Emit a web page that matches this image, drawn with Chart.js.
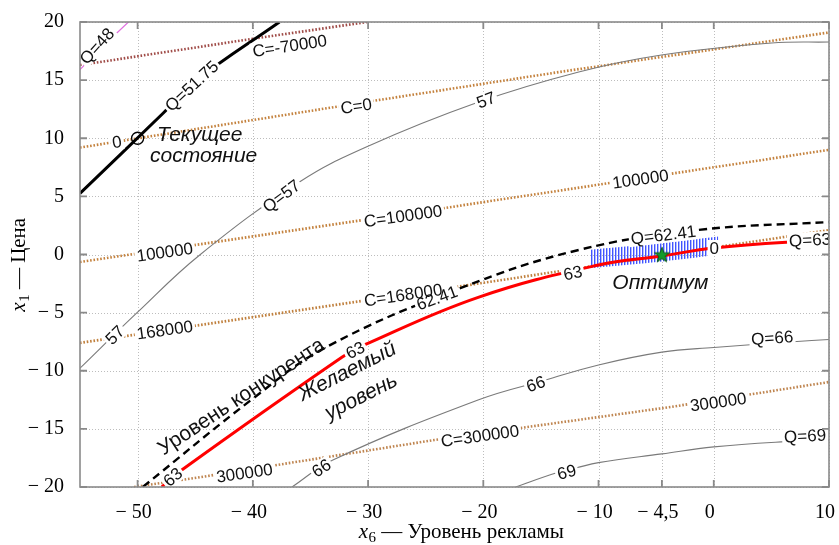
<!DOCTYPE html>
<html><head><meta charset="utf-8">
<script src="https://cdn.jsdelivr.net/npm/chart.js@4.4.1/dist/chart.umd.min.js"></script>
<style>html,body{margin:0;padding:0;background:#fff;overflow:hidden}#wrap{width:839px;height:545px;position:relative}</style>
</head><body><div id="wrap"><canvas id="c"></canvas></div>
<script>
// ---- tick definitions ----
const xTicks = [-50, -40, -30, -20, -10, -4.5, 0, 10];
const xTickLabels = ['\u2212 50', '\u2212 40', '\u2212 30', '\u2212 20', '\u2212 10', '\u2212 4,5', '0', '10'];
const yTicks = [-20, -15, -10, -5, 0, 5, 10, 15, 20];
const yTickLabels = ['\u2212 20', '\u2212 15', '\u2212 10', '\u2212 5', '0', '5', '10', '15', '20'];

// ---- contour lines of cost C (dotted) ----
const cMinus70000 = [[-55, 16.3], [-40.7, 18.45], [-30.1, 20]];
const c0 = [[-55, 9.2], [-29, 13.3], [-13.4, 15.7], [10, 19.1]];
const c100000 = [[-55, -0.65], [-22.7, 4.1], [10, 9.0]];
const c168000 = [[-55, -7.6], [-22.4, -2.8], [10, 2.1]];
const c300000 = [[-50.3, -20], [-45.05, -19.23], [-24.27, -15.96], [-3.76, -13.12], [10, -10.97]];

// ---- contour lines of quality Q ----
const q48 = [[-55, 15.9], [-52.9, 18.0], [-50.8, 20]];
const q5175 = [[-55, 5.26], [-47.79, 12.15], [-45.05, 14.86], [-37.69, 20]];
const q57 = [[-55, -9.78], [-50.07, -5.03], [-44.61, -0.04], [-35.96, 6.24], [-30.16, 9.25],
  [-20.64, 13.03], [-11.72, 15.7], [-4.54, 17.16], [5.02, 18.19], [10.1, 18.28]];
const q6241 = [[-49.55, -20], [-40, -12.4], [-33.62, -7.96], [-21.94, -2.88],
  [-11.72, 0.39], [-1.34, 2.11], [10.1, 2.8]];
const q63 = [[-47.9, -20], [-46.17, -18.54], [-32.24, -8.82], [-30.33, -7.78], [-20.38, -3.66],
  [-10, -0.9], [-4.54, -0.13], [0, 0.56], [6.71, 1.08], [10.1, 1.16]];
const q66 = [[-36.6, -20], [-33.1, -17.7], [-20.4, -12.5], [-14.6, -10.8], [-10, -9.5],
  [-4.5, -8.4], [0, -8.0], [6.9, -7.5], [10.1, -7.3]];
const q69 = [[-17.2, -20], [-13.7, -18.8], [-11.9, -18.35], [-10, -17.9], [-4.5, -17.15], [0, -16.55], [6.2, -16.1], [10.1, -15.95]];

// ---- optimum tolerance band ----
const bandTop = [[-10.7, 0.4], [-4.5, 0.98], [0.4, 1.55]];
const bandBottom = [[-10.7, -1.17], [-4.5, -0.6], [0.4, -0.03]];

// ---- special points ----
const currentState = [[-50, 10]];
const optimum = [[-4.5, 0]];

// ---- inline contour labels: text, data x, data y, angle(deg) ----
const contourLabels = [
  ['Q=48', -53.53, 17.94, -48], ['Q=51.75', -45.31, 14.5, -43], ['C=-70000', -36.8, 17.95, -8.5],
  ['0', -51.8, 9.68, -8], ['C=0', -31.03, 12.77, -8.5], ['57', -19.77, 13.29, -21],
  ['Q=57', -37.52, 5.03, -37], ['57', -51.97, -6.92, -45], ['100000', -47.64, 0.21, -8],
  ['C=100000', -26.96, 3.31, -8], ['100000', -6.36, 6.49, -8], ['168000', -47.64, -6.49, -8],
  ['C=168000', -26.96, -3.48, -8.5], ['62.41', -24.02, -3.74, -20], ['Q=62.41', -4.37, 1.68, -7],
  ['63', -46.95, -19.14, -40], ['63', -31.11, -8.22, -27], ['63', -12.24, -1.59, -12],
  ['Q=63', 8.35, 1.25, -3], ['0', 0.05, 0.56, 0], ['300000', -40.72, -18.8, -8],
  ['C=300000', -20.29, -15.61, -8], ['300000', 0.39, -12.69, -8], ['66', -34.05, -18.37, -33],
  ['66', -15.45, -11.14, -20], ['Q=66', 5.07, -7.18, -4], ['69', -12.76, -18.71, -15], ['Q=69', 7.92, -15.61, -3]
];
// ---- annotations: text, data x, data y, angle, italic ----
const annotations = [
  ['Текущее', -44.61, 9.76, 0, true], ['состояние', -44.27, 7.96, 0, true],
  ['Оптимум', -4.63, -2.97, 0, true],
  ['Уровень конкурента', -40.98, -12.26, -33.5, false],
  ['Желаемый', -31.8, -10.1, -27, true], ['уровень', -30.59, -12.26, -27, true]
];

const P = a => a.map(p => ({x: p[0], y: p[1]}));

function makeStar() {
  const c = document.createElement('canvas'); c.width = 18; c.height = 18;
  const g = c.getContext('2d');
  g.beginPath();
  for (let i = 0; i < 10; i++) {
    const r = i % 2 ? 3.2 : 8;
    const a = -Math.PI / 2 + i * Math.PI / 5;
    g.lineTo(9 + r * Math.cos(a), 9.8 + r * Math.sin(a));
  }
  g.closePath(); g.fillStyle = '#139a2a'; g.fill();
  g.strokeStyle = '#0a5a18'; g.lineWidth = 1; g.stroke();
  return c;
}
const canvas = document.getElementById('c');
canvas.width = 839; canvas.height = 545;
const pc = document.createElement('canvas'); pc.width = 3; pc.height = 4;
const pg = pc.getContext('2d');
pg.fillStyle = 'rgba(55,75,255,0.95)'; pg.fillRect(0, 0, 1, 4);
pg.fillStyle = 'rgba(100,120,255,0.5)'; pg.fillRect(1, 0, 1, 4);
const pattern = canvas.getContext('2d').createPattern(pc, 'repeat');

let ord = 100;
function ln(data, color, width, dash, smooth, extra) {
  return Object.assign({
    data: P(data), showLine: true, pointRadius: 0, borderColor: color, borderWidth: width,
    borderDash: dash || [], fill: false, clip: 0, order: ord--,
    tension: smooth ? 0.4 : 0
  }, extra || {});
}
const dotC = [1.6, 1.8];
const datasets = [
  ln(cMinus70000, '#a04c48', 2.6, dotC, false),
  ln(c0, '#c4823e', 2.6, dotC, false),
  ln(c100000, '#c4823e', 2.6, dotC, false),
  ln(c168000, '#c0803e', 2.6, dotC, false),
  ln(c300000, '#bf8550', 2.6, dotC, false),
  ln(q48, '#e070e0', 1.2, [], true),
  ln(q57, '#7a7a7a', 1.1, [], true),
  ln(q66, '#7a7a7a', 1.1, [], true),
  ln(q69, '#7a7a7a', 1.1, [], true),
];
const bandIdx = datasets.length;
datasets.push(ln(bandTop, 'rgba(0,0,0,0)', 0, [], true, {fill: {target: bandIdx + 1}, backgroundColor: pattern}));
datasets.push(ln(bandBottom, 'rgba(0,0,0,0)', 0, [], true));
datasets.push(ln(q6241, '#000', 2.4, [8, 5], true));
datasets.push(ln(q63, '#ff0000', 3, [], true));
datasets.push(ln(q5175, '#000', 3, [], true));
datasets.push({data: P(currentState), showLine: false, pointRadius: 6, pointStyle: 'circle',
  pointBorderColor: '#000', pointBackgroundColor: 'rgba(0,0,0,0)', pointBorderWidth: 1.3, order: ord--, clip: false});
datasets.push({data: P(optimum), showLine: false, pointRadius: 9, pointStyle: makeStar(), order: ord--, clip: false});

const serif = '"Liberation Serif", "Times New Roman", serif';
const sans = '"Liberation Sans", Arial, sans-serif';

const deco = {
  id: 'deco',
  beforeDatasetsDraw(chart) {
    const {ctx, chartArea: a, scales} = chart;
    ctx.save();
    ctx.strokeStyle = '#bdbdbd'; ctx.lineWidth = 1; ctx.setLineDash([1, 2]);
    xTicks.forEach(v => { const x = Math.round(scales.x.getPixelForValue(v)) + 0.5;
      ctx.beginPath(); ctx.moveTo(x, a.top); ctx.lineTo(x, a.bottom); ctx.stroke(); });
    yTicks.forEach(v => { const y = Math.round(scales.y.getPixelForValue(v)) + 0.5;
      ctx.beginPath(); ctx.moveTo(a.left, y); ctx.lineTo(a.right, y); ctx.stroke(); });
    ctx.restore();
  },
  afterDatasetsDraw(chart) {
    const {ctx, chartArea: a, scales} = chart;
    ctx.save();
    ctx.beginPath(); ctx.rect(a.left, a.top, a.right - a.left, a.bottom - a.top); ctx.clip();
    ctx.font = '17px ' + sans;
    contourLabels.forEach(l => {
      const x = scales.x.getPixelForValue(l[1]), y = scales.y.getPixelForValue(l[2]);
      const w = ctx.measureText(l[0]).width;
      ctx.save(); ctx.translate(x, y); ctx.rotate(l[3] * Math.PI / 180);
      ctx.fillStyle = '#fff'; ctx.fillRect(-w / 2 - 2, -8, w + 4, 16);
      ctx.restore();
    });
    contourLabels.forEach(l => {
      const x = scales.x.getPixelForValue(l[1]), y = scales.y.getPixelForValue(l[2]);
      ctx.save(); ctx.translate(x, y); ctx.rotate(l[3] * Math.PI / 180);
      ctx.fillStyle = '#111'; ctx.textAlign = 'center'; ctx.textBaseline = 'middle';
      ctx.fillText(l[0], 0, 1);
      ctx.restore();
    });
    annotations.forEach(l => {
      const x = scales.x.getPixelForValue(l[1]), y = scales.y.getPixelForValue(l[2]);
      ctx.save(); ctx.translate(x, y); ctx.rotate(l[3] * Math.PI / 180);
      ctx.font = (l[4] ? 'italic ' : '') + '21px ' + sans;
      ctx.fillStyle = '#111'; ctx.textAlign = 'center';
      ctx.textBaseline = l[3] === 0 ? 'alphabetic' : 'middle';
      ctx.fillText(l[0], 0, 0);
      ctx.restore();
    });
    ctx.restore();
    ctx.save();
    ctx.strokeStyle = '#8a8a8a'; ctx.lineWidth = 1.6;
    ctx.strokeRect(a.left, a.top, a.right - a.left, a.bottom - a.top);
    ctx.lineWidth = 1.8; const tl = 7;
    xTicks.forEach(v => { const x = scales.x.getPixelForValue(v);
      ctx.beginPath(); ctx.moveTo(x, a.bottom); ctx.lineTo(x, a.bottom - tl);
      ctx.moveTo(x, a.top); ctx.lineTo(x, a.top + tl); ctx.stroke(); });
    yTicks.forEach(v => { const y = scales.y.getPixelForValue(v);
      ctx.beginPath(); ctx.moveTo(a.left, y); ctx.lineTo(a.left + tl, y);
      ctx.moveTo(a.right, y); ctx.lineTo(a.right - tl, y); ctx.stroke(); });
    ctx.restore();
  },
  afterDraw(chart) {
    const {ctx} = chart;
    ctx.save(); ctx.fillStyle = '#000'; ctx.textBaseline = 'alphabetic'; ctx.textAlign = 'left';
    const drawTitle = (sub, rest) => {
      ctx.font = 'italic 21px ' + serif; const w1 = ctx.measureText('x').width;
      ctx.font = '15px ' + serif; const w2 = ctx.measureText(sub).width;
      ctx.font = '21px ' + serif; const w3 = ctx.measureText(rest).width;
      const tot = w1 + w2 + w3;
      let x = -tot / 2;
      ctx.font = 'italic 21px ' + serif; ctx.fillText('x', x, 0); x += w1 + 0.5;
      ctx.font = '15px ' + serif; ctx.fillText(sub, x, 4); x += w2;
      ctx.font = '21px ' + serif; ctx.fillText(rest, x, 0);
    };
    ctx.save(); ctx.translate(461, 538); drawTitle('6', ' \u2014 Уровень рекламы'); ctx.restore();
    ctx.save(); ctx.translate(25, 265); ctx.rotate(-Math.PI / 2); drawTitle('1', ' \u2014 Цена'); ctx.restore();
    ctx.restore();
  }
};

new Chart(canvas, {
  type: 'scatter',
  data: {datasets},
  options: {
    responsive: false, animation: false, events: [],
    layout: {padding: {top: 22, right: 8, left: 0, bottom: 0}},
    plugins: {legend: {display: false}, tooltip: {enabled: false}},
    scales: {
      x: {type: 'linear', min: -55, max: 10,
        afterBuildTicks: s => { s.ticks = xTicks.map(v => ({value: v})); },
        afterFit: s => { s.height = 58; s.paddingLeft = 0; s.paddingRight = 0; },
        grid: {display: false}, border: {display: false},
        ticks: {autoSkip: false, maxRotation: 0, padding: 6, labelOffset: -4, color: '#000',
          font: {family: serif, size: 20}, callback: (v, i) => xTickLabels[i]}},
      y: {type: 'linear', min: -20, max: 20,
        afterBuildTicks: s => { s.ticks = yTicks.map(v => ({value: v})); },
        afterFit: s => { s.width = 80; s.paddingTop = 0; s.paddingBottom = 0; },
        grid: {display: false}, border: {display: false},
        ticks: {autoSkip: false, padding: 8, color: '#000',
          font: {family: serif, size: 20}, callback: (v, i) => yTickLabels[i]}}
    }
  },
  plugins: [deco]
});
</script></body></html>
